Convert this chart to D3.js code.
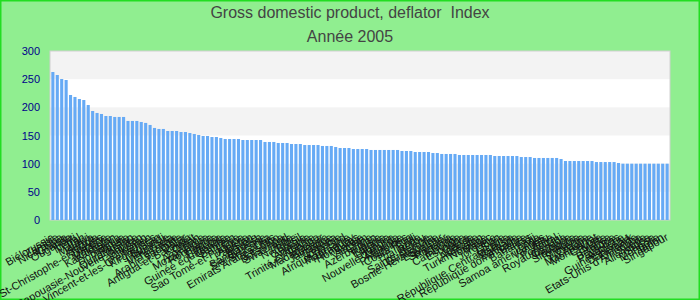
<!DOCTYPE html>
<html>
<head>
<meta charset="utf-8">
<script src="https://cdn.jsdelivr.net/npm/d3@7"></script>
<style>
  body { margin: 0; }
  svg { font-family: "Liberation Sans", Arial, sans-serif; }
</style>
</head>
<body>
<script>
// deflator index 2005, one bar per country, sorted high to low
var titles = ["Gross domestic product, deflator  Index", "Année 2005"];

var countries = [
    "Biélorussie", "Zambie", "Nicaragua", "Ghana", "Ouganda", "Haïti", "Népal", "Iran", "Malawi", "Kenya",
    "Angola", "St-Christophe-et-Niévès", "Ukraine", "Moldavie", "Kazakhstan", "Nigeria", "Dominique", "Russie", "Ouzbékistan", "Papouasie-Nouvelle-Guinée",
    "Soudan", "Tadjikistan", "Yémen", "St-Vincent-et-les-Grenadines", "Kirghizistan", "Burundi", "Indonésie", "Venezuela", "Tanzanie", "Arabie saoudite",
    "Qatar", "Antigua-et-Barbuda", "Koweït", "Oman", "Argentine", "Mozambique", "Roumanie", "Turquie", "Ethiopie", "Guinée équatoriale",
    "Gambie", "Bahreïn", "Libye", "Sao Tomé-et-Principe", "Algérie", "Pakistan", "Egypte", "Bangladesh", "Sierra Leone", "Sri Lanka",
    "Emirats Arabes Unis", "Lesotho", "Botswana", "Swaziland", "Inde", "Namibie", "Brésil", "Géorgie", "Arménie", "Albanie",
    "Trinité-et-Tobago", "Madagascar", "Bulgarie", "Jamaïque", "Guyana", "Lettonie", "Afrique du Sud", "Mauritanie", "Paraguay", "Honduras",
    "Serbie", "Vietnam", "Chine", "Azerbaïdjan", "Tunisie", "Estonie", "Lituanie", "Hongrie", "Nouvelle-Zélande", "Mexique",
    "Philippines", "Costa Rica", "Chili", "Thaïlande", "Pérou", "Sainte-Hélène", "Guatemala", "Bosnie-Herzégovine", "Equateur", "Salvador",
    "Panama", "Islande", "Cambodge", "Espagne", "Grèce", "Irlande", "Australie", "Turkménistan", "Norvège", "Maroc",
    "Jordanie", "Liban", "Syrie", "République Centrafricaine", "Malaisie", "Barbade", "République dominicaine", "Belize", "Bahamas", "Fidji",
    "Tonga", "Samoa américaines", "Vanuatu", "Italie", "Portugal", "Royaume-Uni", "Canada", "Pologne", "Slovaquie", "Tchéquie",
    "Slovénie", "Croatie", "Macédoine", "Montserrat", "Chypre", "Malte", "France", "Belgique", "Pays-Bas", "Autriche",
    "Guinée-Bissau", "Danemark", "Finlande", "Etats-Unis d'Amérique", "Suède", "Allemagne", "Suisse", "Mongolie", "Japon", "Singapour"
];

var values = [
    262.7, 257.4, 250.3, 248.5, 221.9, 218.4, 214.8, 213.0, 204.1, 193.5,
    190.0, 188.2, 184.6, 184.6, 182.9, 182.9, 182.9, 175.8, 175.8, 175.8,
    174.0, 172.3, 168.7, 163.4, 161.6, 161.6, 158.0, 158.0, 158.0, 156.2,
    156.2, 154.4, 152.7, 150.9, 149.1, 149.1, 147.3, 147.3, 145.6, 143.8,
    143.8, 143.8, 143.8, 142.0, 142.0, 142.0, 142.0, 142.0, 138.5, 138.5,
    138.5, 136.7, 136.7, 136.7, 134.9, 134.9, 134.9, 133.1, 133.1, 133.1,
    133.1, 131.4, 131.4, 131.4, 129.6, 127.8, 127.8, 127.8, 126.0, 126.0,
    126.0, 126.0, 124.3, 124.3, 124.3, 124.3, 124.3, 124.3, 124.3, 122.5,
    122.5, 122.5, 120.7, 120.7, 120.7, 120.7, 118.9, 118.9, 117.2, 117.2,
    117.2, 117.2, 115.4, 115.4, 115.4, 115.4, 115.4, 115.4, 115.4, 115.4,
    113.6, 113.6, 113.6, 113.6, 113.6, 113.6, 111.8, 111.8, 111.8, 110.1,
    110.1, 110.1, 110.1, 110.1, 110.1, 108.3, 104.7, 104.7, 104.7, 104.7,
    104.7, 104.7, 104.7, 102.9, 102.9, 102.9, 102.9, 102.9, 101.2, 100.0,
    100.0, 100.0, 100.0, 100.0, 100.0, 100.0, 100.0, 100.0, 100.0, 100.0
];

var y_ticks = [0, 50, 100, 150, 200, 250, 300];

var width = 700, height = 300;
var plot = { left: 50, right: 670, top: 51, bottom: 220 };

var svg = d3.select("body").append("svg").attr("width", width).attr("height", height);

svg.append("rect")
    .attr("x", 0.75).attr("y", 0.75)
    .attr("width", width - 1.5).attr("height", height - 1.5)
    .style("fill", "#90ee90")
    .style("stroke", "#22dd22")
    .style("stroke-width", 1.5);

var x = d3.scaleBand().domain(countries).range([plot.left, plot.right]).paddingInner(0.3).paddingOuter(0.3);
var y = d3.scaleLinear().domain([0, 300]).range([plot.bottom, plot.top]);

// plot background with alternating bands
svg.append("rect")
    .attr("x", plot.left).attr("y", plot.top)
    .attr("width", plot.right - plot.left).attr("height", plot.bottom - plot.top)
    .style("fill", "white");

for (var i = 0; i < y_ticks.length - 1; i++) {
    if ((y_ticks.length - 2 - i) % 2 == 0) {
        svg.append("rect")
            .attr("x", plot.left)
            .attr("y", y(y_ticks[i + 1]))
            .attr("width", plot.right - plot.left)
            .attr("height", y(y_ticks[i]) - y(y_ticks[i + 1]))
            .style("fill", "#f3f3f3");
    }
}

svg.append("rect")
    .attr("x", plot.left).attr("y", plot.top)
    .attr("width", plot.right - plot.left).attr("height", plot.bottom - plot.top)
    .style("fill", "none")
    .style("stroke", "#d0d0d0");

svg.selectAll(".bar")
    .data(values)
    .enter()
        .append("rect")
        .attr("class", "bar")
        .attr("x", function (d, i) { return x(countries[i]); })
        .attr("width", x.bandwidth())
        .attr("y", function (d) { return y(d); })
        .attr("height", function (d) { return y(0) - y(d); })
        .style("fill", "#66aaf5");

// y axis labels only, no line
var yAxis = svg.append("g")
    .attr("transform", "translate(" + (plot.left - 10) + ",0)")
    .call(d3.axisLeft(y).tickValues(y_ticks).tickSize(0).tickPadding(0));
yAxis.select(".domain").remove();
yAxis.selectAll("text")
    .style("font-family", "Liberation Sans, Arial, sans-serif")
    .style("font-size", "11px")
    .style("fill", "#00008b");

// x axis, rotated labels
var xAxis = svg.append("g")
    .attr("transform", "translate(0," + (plot.bottom + 16) + ")")
    .call(d3.axisBottom(x).tickSize(0).tickPadding(0));
xAxis.select(".domain").remove();
xAxis.selectAll("text")
    .attr("dy", "0.35em")
    .attr("y", 0)
    .attr("transform", "rotate(-30)")
    .style("text-anchor", "end")
    .style("font-family", "Liberation Sans, Arial, sans-serif")
    .style("font-size", "11px")
    .style("fill", "#111");

svg.selectAll(".title")
    .data(titles)
    .enter()
        .append("text")
        .attr("class", "title")
        .attr("x", width / 2)
        .attr("y", function (d, i) { return 18 + i * 24; })
        .attr("text-anchor", "middle")
        .style("font-size", "16px")
        .style("white-space", "pre")
        .style("fill", "#444")
        .text(function (d) { return d; });
</script>
</body>
</html>
